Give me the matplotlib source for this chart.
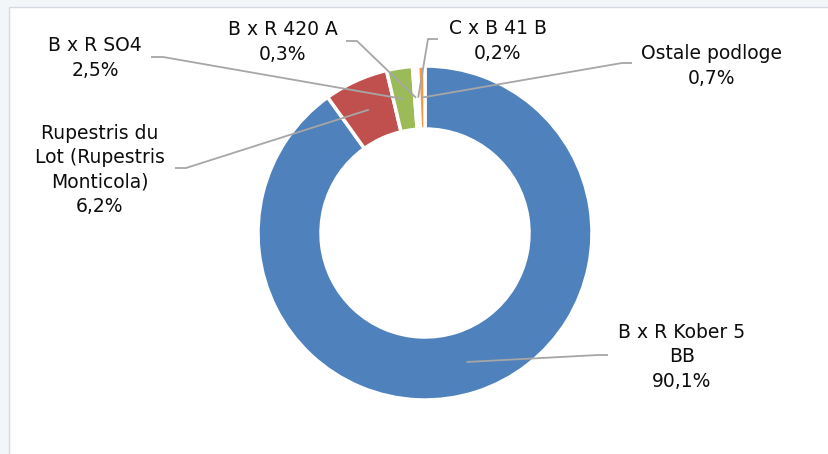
import matplotlib
matplotlib.use("Agg")
import matplotlib.pyplot as plt
from matplotlib.patches import Rectangle
import numpy as np

# ---------------------------------------------------------------------------
# Data
# ---------------------------------------------------------------------------
labels = [
    "B x R Kober 5\nBB",
    "Rupestris du\nLot (Rupestris\nMonticola)",
    "B x R SO4",
    "B x R 420 A",
    "C x B 41 B",
    "Ostale podloge",
]
shares = [90.1, 6.2, 2.5, 0.3, 0.2, 0.7]
pct_labels = ["90,1%", "6,2%", "2,5%", "0,3%", "0,2%", "0,7%"]
colors = ["#4F81BD", "#C0504D", "#9BBB59", "#8064A2", "#4BACC6", "#F79646"]

# ---------------------------------------------------------------------------
# Layout (pixel coordinates, y measured from the top)
# ---------------------------------------------------------------------------
W, H = 829, 454
CX, CY = 425, 233
R_OUT, R_IN = 167, 104

# label block centre, elbow of the leader line, end of the leader line
label_pos = [(682, 357), (100, 170), (95, 58), (283, 42), (498, 41), (712, 66)]
elbows = [(598, 355), (186, 168), (163, 57), (357, 41), (428, 39), (622, 63)]
ends = [(608, 355), (175, 168), (151, 57), (346, 41), (438, 39), (632, 63)]


def py(y):
    return H - y


fig = plt.figure(figsize=(W / 100, H / 100), dpi=100)
fig.patch.set_facecolor("#F3F6F9")
ax = fig.add_axes([0, 0, 1, 1])

# white chart area with a thin border, running off the right/bottom edge
ax.add_patch(Rectangle((9, -20), W + 20, py(7) + 20, facecolor="white",
                       edgecolor="#D5DAE0", linewidth=1.0, zorder=0))

wedges, _ = ax.pie(
    shares,
    colors=colors,
    startangle=90,
    counterclock=False,
    center=(CX, py(CY)),
    radius=R_OUT,
    wedgeprops=dict(width=R_OUT - R_IN, edgecolor="white", linewidth=2.5),
    frame=True,
)
ax.set_xlim(0, W)
ax.set_ylim(0, H)
ax.set_aspect("equal")
ax.axis("off")

r_mid = (R_OUT + R_IN) / 2
for w, lab, pct, (tx, ty), (ex, ey), (fx, fy) in zip(
        wedges, labels, pct_labels, label_pos, elbows, ends):
    ang = np.deg2rad((w.theta1 + w.theta2) / 2)
    axp = CX + r_mid * np.cos(ang)
    ayp = py(CY) + r_mid * np.sin(ang)
    ax.plot([axp, ex, fx], [ayp, py(ey), py(fy)], color="#A6A6A6",
            linewidth=1.3, solid_capstyle="butt", zorder=3)
    ax.text(tx, py(ty), f"{lab}\n{pct}", ha="center", va="center",
            fontsize=13.5, color="#0D0D0D", linespacing=1.36,
            family="DejaVu Sans", zorder=4)

fig.savefig("out.png", dpi=100, facecolor=fig.get_facecolor())
